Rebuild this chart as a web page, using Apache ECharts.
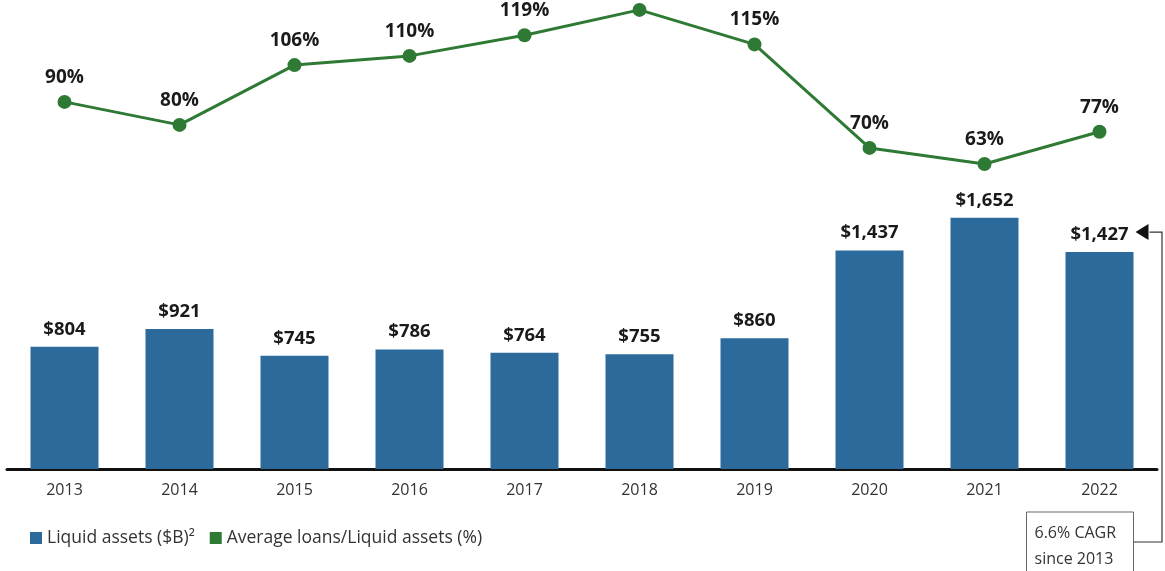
<!DOCTYPE html>
<html>
<head>
<meta charset="utf-8">
<script src="https://cdn.jsdelivr.net/npm/echarts@6/dist/echarts.min.js"></script>
<style>
html,body{margin:0;padding:0;background:#fff;}
#c{width:1165px;height:571px;}
</style>
</head>
<body>
<div id="c"></div>
<script>
const years = ['2013','2014','2015','2016','2017','2018','2019','2020','2021','2022'];
const liquidAssets = [804, 921, 745, 786, 764, 755, 860, 1437, 1652, 1427];
const loanRatio = [90, 80, 106, 110, 119, 130, 115, 70, 63, 77];
const legendNames = ['Liquid assets ($B)\u00B2', 'Average loans/Liquid assets (%)'];
const cagrLines = ['6.6% CAGR', 'since 2013'];

const FONT = '"Open Sans",sans-serif';
const BLUE = '#2d6a9c';
const GREEN = '#2e7a34';

const chart = echarts.init(document.getElementById('c'), null, {renderer:'canvas'});
chart.setOption({
  animation:false,
  backgroundColor:'#fff',
  grid:{left:7, right:8, top:0, bottom:102, containLabel:false},
  legend:{
    left:25, top:524, itemWidth:12, itemHeight:12, itemGap:15, icon:'rect',
    textStyle:{fontFamily:FONT, fontSize:17.5, color:'#333'},
    data:legendNames
  },
  xAxis:{
    type:'category', data:years,
    axisLine:{lineStyle:{color:'#111', width:3}},
    axisTick:{show:false},
    axisLabel:{fontFamily:FONT, fontSize:16, color:'#333', margin:13}
  },
  yAxis:[
    {type:'value', min:0, max:3085, show:false, splitLine:{show:false}},
    {type:'value', min:-69.6, max:134.3, show:false, splitLine:{show:false}}
  ],
  series:[
    {
      name:legendNames[0], type:'bar', data:liquidAssets, yAxisIndex:0,
      barWidth:68, itemStyle:{color:BLUE},
      label:{show:true, position:'top', distance:8, formatter:p=>'$'+p.value.toLocaleString('en-US'),
        fontFamily:FONT, fontWeight:'bold', fontSize:18.5, color:'#1a1a1a'}
    },
    {
      name:legendNames[1], type:'line', data:loanRatio, yAxisIndex:1,
      symbol:'circle', symbolSize:14, z:5,
      lineStyle:{color:GREEN, width:3}, itemStyle:{color:GREEN},
      label:{show:true, position:'top', distance:8, formatter:'{c}%',
        fontFamily:FONT, fontWeight:'bold', fontSize:19, color:'#1a1a1a'}
    }
  ]
});

// CAGR annotation anchored to the 2022 bar label
const p = chart.convertToPixel({xAxisIndex:0, yAxisIndex:0}, [years.length-1, liquidAssets[liquidAssets.length-1]]);
const arrowY = p[1] - 20;
const tipX = p[0] + 36;
const boxL = p[0] - 73, boxT = 512, boxW = 107, boxH = 64;
const lineX = 1162;
const connY = 542;
chart.setOption({
  graphic:[
    {type:'rect', shape:{x:boxL, y:boxT, width:boxW, height:boxH}, style:{fill:'#fff', stroke:'#666', lineWidth:1}},
    {type:'text', style:{x:boxL+8, y:boxT+8, text:cagrLines.join('\n'), lineHeight:26, font:'16px '+FONT, fill:'#333'}},
    {type:'polyline', shape:{points:[[boxL+boxW, connY],[lineX, connY],[lineX, arrowY],[tipX+14, arrowY]]}, style:{stroke:'#333', lineWidth:1.2, fill:null}},
    {type:'polygon', shape:{points:[[tipX, arrowY],[tipX+13, arrowY-8],[tipX+13, arrowY+8]]}, style:{fill:'#111'}}
  ]
});
</script>
</body>
</html>
